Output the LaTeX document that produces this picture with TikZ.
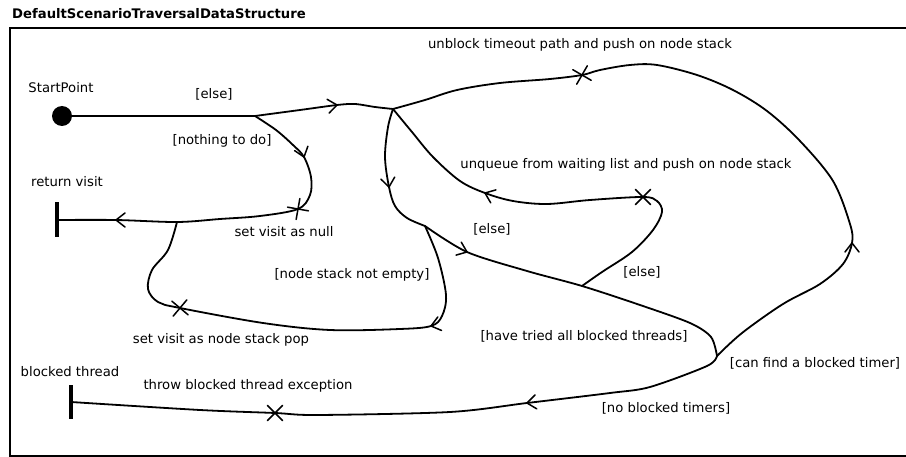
\documentclass[tikz,border=0pt]{standalone}
\usepackage{fontspec}
\setmainfont{DejaVu Sans}
\begin{document}
\begin{tikzpicture}[x=1pt,y=-1pt,
  flow/.style={line width=1.8pt, line join=round, line cap=round},
  lbl/.style={anchor=base, inner sep=0pt, font=\fontsize{13.2}{14}\selectfont},
  title/.style={anchor=base west, inner sep=0pt, font=\bfseries\fontsize{13.2}{14}\selectfont},
  bar/.style={fill=black, inner sep=0pt, minimum width=3.2pt},
  chev/.pic={\draw[line width=1.5pt, line cap=round, line join=miter] (-9pt,7pt) -- (0pt,0pt) -- (-9pt,-7pt);},
  xmark/.pic={\draw[line width=1.5pt, line cap=round] (-7.5pt,-7.5pt) -- (7.5pt,7.5pt) (-7.5pt,7.5pt) -- (7.5pt,-7.5pt);}
]
\useasboundingbox (0,0) rectangle (906,457);

% frame and title
\draw[line width=2pt] (920,28) -- (10,28) -- (10,455.5) -- (920,455.5);
\node[title] (ttl) at (12,19) {DefaultScenarioTraversalDataStructure};

% start, ends
\node[circle, fill=black, inner sep=0pt, minimum size=20pt] (start) at (62,116) {};
\node[bar, minimum height=35pt] (ret) at (57,220) {};
\node[bar, minimum height=34pt] (blk) at (71,402) {};

% junctions
\coordinate (F0) at (255,116);
\coordinate (J1) at (393,109);
\coordinate (J2) at (425,226);
\coordinate (J4) at (582,286);
\coordinate (J5) at (717,356);
\coordinate (M1) at (177,222);

% action points
\coordinate (Xnull) at (298,209);
\coordinate (Xpop) at (180,308);
\coordinate (Xunq) at (643,197);
\coordinate (Xunb) at (582,75);
\coordinate (Xthrow) at (275,413);

% arrow points
\coordinate (A1) at (337,105);
\coordinate (A2) at (304,157);
\coordinate (A3) at (116,220);
\coordinate (A4) at (431,326);
\coordinate (A5) at (389,187);
\coordinate (A6) at (467,252);
\coordinate (A7) at (485,193);
\coordinate (A8) at (852,243);
\coordinate (A9) at (527,403);

% transitions
\draw[flow] (start.east) -- (F0);
\draw[flow] plot[smooth, tension=0.5] coordinates {(F0) (300,110) (A1) (355,104) (375,107) (J1)};
\draw[flow] plot[smooth, tension=0.55] coordinates {(F0) (276,130) (293,145) (A2) (311,177) (310,195) (Xnull) (260,216) (220,219) (M1) (A3) (ret.center)};
\draw[flow] plot[smooth, tension=0.55] coordinates {(J2) (438,258) (446,295) (442,316) (A4) (400,329) (330,330) (263,323) (Xpop) (158,302) (148,289) (152,270) (168,250) (M1)};
\draw[flow] plot[smooth, tension=0.55] coordinates {(J1) (388,127) (385,157) (A5) (395,206) (407,218) (J2)};
\draw[flow] plot[smooth, tension=0.5] coordinates {(J2) (A6) (527,271) (J4) (640,305) (690,323) (711,337) (J5)};
\draw[flow] plot[smooth, tension=0.55] coordinates {(J4) (602,272) (632,252) (653,230) (662,212) (657,201) (Xunq) (590,200) (547,204) (513,201) (A7) (460,181) (433,157) (412,132) (J1)};
\draw[flow] plot[smooth, tension=0.55] coordinates {(J5) (742,333) (783,304) (820,284) (843,264) (A8) (850,224) (833,181) (800,141) (767,111) (733,90) (697,75) (657,65) (630,65) (600,70) (Xunb) (550,79) (500,83) (457,90) (425,100) (J1)};
\draw[flow] plot[smooth, tension=0.5] coordinates {(J5) (707,366) (650,387) (610,393) (A9) (450,412) (317,415) (Xthrow) (200,410) (blk.center)};

% arrowheads
\pic[rotate=8] at (A1) {chev};
\pic[rotate=-72] at (A2) {chev};
\pic[rotate=180] at (A3) {chev};
\pic[rotate=195] at (A4) {chev};
\pic[rotate=-82] at (A5) {chev};
\pic[rotate=-22] at (A6) {chev};
\pic[rotate=158] at (A7) {chev};
\pic[rotate=90] at (A8) {chev};
\pic[rotate=187] at (A9) {chev};

% action marks
\pic[rotate=35] at (Xnull) {xmark};
\pic[rotate=5] at (Xpop) {xmark};
\pic[rotate=0] at (Xunq) {xmark};
\pic[rotate=15] at (Xunb) {xmark};
\pic[rotate=0] at (Xthrow) {xmark};

% labels
\node[lbl] (lStart) at (61,93) {StartPoint};
\node[lbl] (lElse1) at (214,99) {[else]};
\node[lbl] (lNothing) at (222,145) {[nothing to do]};
\node[lbl] (lRet) at (67,187) {return visit};
\node[lbl] (lNull) at (284,237) {set visit as null};
\node[lbl] (lNotEmpty) at (352,279) {[node stack not empty]};
\node[lbl] (lPop) at (221,344) {set visit as node stack pop};
\node[lbl] (lBlk) at (70,377) {blocked thread};
\node[lbl] (lThrow) at (248,389) {throw blocked thread exception};
\node[lbl] (lUnb) at (580,49) {unblock timeout path and push on node stack};
\node[lbl] (lUnq) at (626,169) {unqueue from waiting list and push on node stack};
\node[lbl] (lElse2) at (492,234) {[else]};
\node[lbl] (lElse3) at (642,277) {[else]};
\node[lbl] (lTried) at (584,341) {[have tried all blocked threads]};
\node[lbl] (lCan) at (815,367) {[can find a blocked timer]};
\node[lbl] (lNoTimers) at (666,412) {[no blocked timers]};
\end{tikzpicture}
\end{document}
